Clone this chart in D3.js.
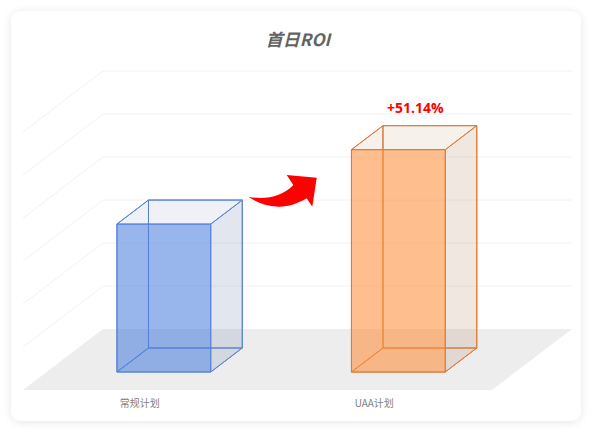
<!DOCTYPE html>
<html><head><meta charset="utf-8">
<script src="https://cdn.jsdelivr.net/npm/d3@7/dist/d3.min.js"></script>
<style>html,body{margin:0;padding:0;background:#fff}svg{display:block}</style>
</head><body><svg id="c" width="592" height="432"></svg>
<script>
const categories = ["常规计划", "UAA计划"];
const roiValues = [3.44, 5.17];
const yTicks = [0, 1, 2, 3, 4, 5, 6];
const titleText = "首日ROI";
const upliftLabel = "+51.14%";
const barColors = ["#4d7fdf", "#fd8f3d"];
const barStrokes = ["#5a85d6", "#e07a38"];
const sideColors = ["#6e82af", "#b48769"];
const topColors = ["#6973a5", "#a57337"];

const svg = d3.select("#c");
const defs = svg.append("defs");
const f = defs.append("filter").attr("id","sh").attr("x","-5%").attr("y","-5%").attr("width","110%").attr("height","110%");
f.append("feDropShadow").attr("dx",0).attr("dy",1).attr("stdDeviation",4).attr("flood-color","#000").attr("flood-opacity",0.10);

svg.append("rect").attr("x",11).attr("y",11).attr("width",570).attr("height",410).attr("rx",10)
  .attr("fill","#fff").attr("filter","url(#sh)");

// Scales: x = category band on the front floor edge, y = value, z = depth (0 front, 1 back)
const x = d3.scaleBand().domain(categories).range([23, 492]).paddingInner(0).paddingOuter(0);
const y = d3.scaleLinear().domain([0, 6]).range([390, 132]);
const zx = d3.scaleLinear().domain([0, 1]).range([0, 80]);
const zy = d3.scaleLinear().domain([0, 1]).range([0, 61]);
const P = (px, v, z) => [px + zx(z), y(v) - zy(z)];
const poly = pts => pts.map(p => p.join(",")).join(" ");

// Floor
svg.append("polygon").attr("fill","#ededed").attr("points", poly([
  P(x.range()[0],0,0), P(x.range()[0],0,1), P(x.range()[1],0,1), P(x.range()[1],0,0)]));

// Grid on side and back walls
const grid = svg.append("g").attr("fill","none").attr("stroke","#f2f2f2").attr("stroke-width",1);
yTicks.filter(t => t > 0).forEach(t => {
  const a = P(x.range()[0], t, 0), b = P(x.range()[0], t, 1), c = P(x.range()[1], t, 1);
  grid.append("polyline").attr("points", poly([a, b, c]));
});

// Bars
const bw = x.bandwidth() * 0.4, z0 = 0.295, z1 = 0.689;
categories.forEach((cat, i) => {
  const l = x(cat) + (x.bandwidth() - bw) / 2, r = l + bw, v = roiValues[i];
  const g = svg.append("g").attr("stroke", barStrokes[i]).attr("stroke-width", 1).attr("stroke-linejoin","round");
  const face = (pts, col, op) => g.append("polygon").attr("points", poly(pts)).attr("fill", col).attr("fill-opacity", op);
  const lbf=P(l,0,z0), rbf=P(r,0,z0), ltf=P(l,v,z0), rtf=P(r,v,z0);
  const lbb=P(l,0,z1), rbb=P(r,0,z1), ltb=P(l,v,z1), rtb=P(r,v,z1);
  face([lbb, rbb, rtb, ltb], "none", 0);            // back
  face([lbf, lbb, ltb, ltf], "none", 0);            // left
  face([lbf, rbf, rbb, lbb], "none", 0);            // bottom
  face([rbf, rbb, rtb, rtf], sideColors[i], 0.2);   // right
  face([ltf, rtf, rtb, ltb], topColors[i], 0.1);    // top
  face([lbf, rbf, rtf, ltf], barColors[i], 0.58);   // front
});

// Category labels
svg.append("g").selectAll("text").data(categories).join("text")
  .attr("x", d => x(d) + x.bandwidth()/2 - 0.5).attr("y", 407)
  .attr("text-anchor","middle").attr("font-family","'Noto Sans CJK SC','Noto Sans',sans-serif")
  .attr("font-size",10).attr("fill","#808080").text(d => d);

// Title
svg.append("text").attr("x",298).attr("y",46).attr("text-anchor","middle")
  .attr("font-family","'Noto Sans CJK SC','Open Sans',sans-serif").attr("font-size",17)
  .attr("font-weight",700).attr("font-style","italic").attr("fill","#636363").text(titleText);

// Uplift label, placed above the taller bar
const bi = 1;
svg.append("text").attr("x", x(categories[bi]) + x.bandwidth()/2 + 40.5).attr("y", 113)
  .attr("text-anchor","middle").attr("font-family","'Open Sans',sans-serif")
  .attr("font-size",14).attr("font-weight",700).attr("fill","#ff0000").text(upliftLabel);

// Curved annotation arrow
svg.append("path").attr("fill","#ff0000")
  .attr("d","M248.3,196.7 C265,200 282,197 293.3,185 L286.7,175 L316.7,177.7 L312.3,206.7 L306.7,198.3 C297,204 288,207 278,206.7 C266,206 256,202 248.3,196.7 Z");
</script></body></html>
